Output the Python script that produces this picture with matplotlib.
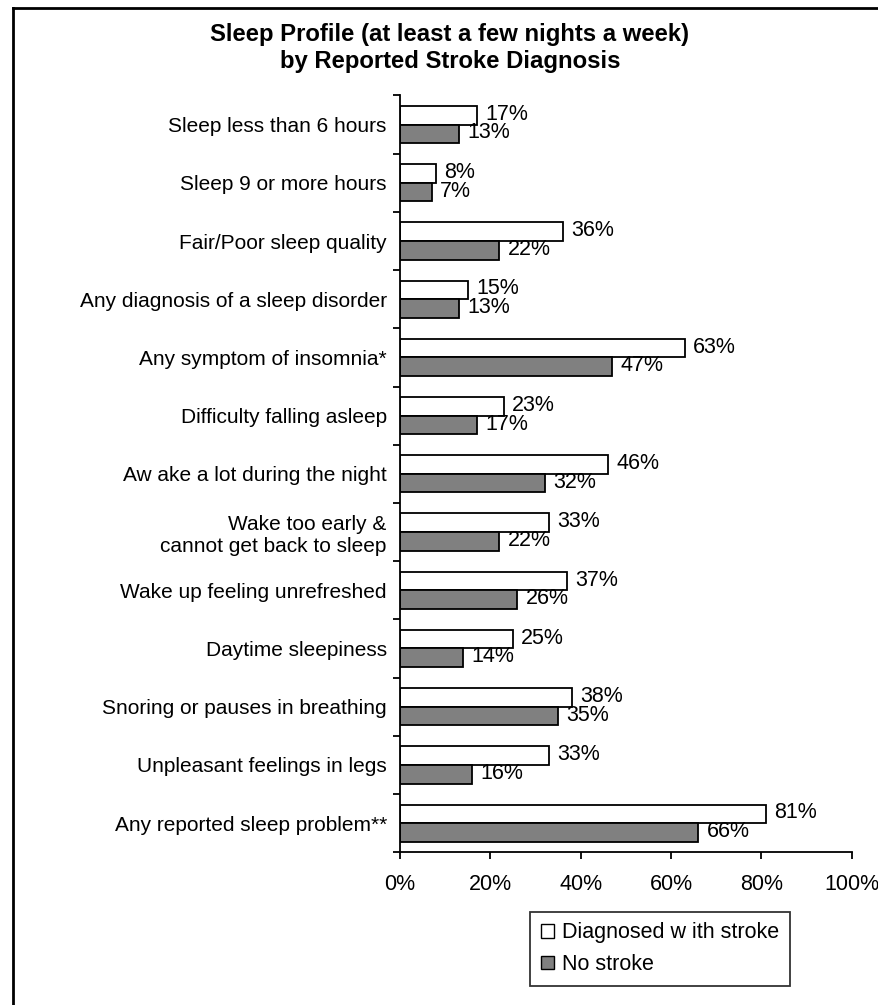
import matplotlib.pyplot as plt
from matplotlib.lines import Line2D
from matplotlib.patches import Patch
from matplotlib.ticker import FuncFormatter

plt.rcParams["font.family"] = ["Liberation Sans", "DejaVu Sans"]

categories = [
    "Sleep less than 6 hours",
    "Sleep 9 or more hours",
    "Fair/Poor sleep quality",
    "Any diagnosis of a sleep disorder",
    "Any symptom of insomnia*",
    "Difficulty falling asleep",
    "Aw ake a lot during the night",
    "Wake too early &\ncannot get back to sleep",
    "Wake up feeling unrefreshed",
    "Daytime sleepiness",
    "Snoring or pauses in breathing",
    "Unpleasant feelings in legs",
    "Any reported sleep problem**",
]
stroke = [17, 8, 36, 15, 63, 23, 46, 33, 37, 25, 38, 33, 81]
no_stroke = [13, 7, 22, 13, 47, 17, 32, 22, 26, 14, 35, 16, 66]
x_ticks = [0, 20, 40, 60, 80, 100]

fig = plt.figure(figsize=(8.79, 10.05), dpi=100)
ax = fig.add_axes([0.455, 0.152, 0.514, 0.753])

h = 0.32
fs = 15
ys = list(range(len(categories)))
ax.barh([y - h / 2 for y in ys], stroke, height=h, color="white",
        edgecolor="black", linewidth=1.3)
ax.barh([y + h / 2 for y in ys], no_stroke, height=h, color="#808080",
        edgecolor="black", linewidth=1.3)

for y, a, b in zip(ys, stroke, no_stroke):
    ax.annotate(f"{a}%", (a, y - h * 0.55), xytext=(6, 0), textcoords="offset points",
                va="center", ha="left", fontsize=fs + 0.5)
    ax.annotate(f"{b}%", (b, y + h * 0.45), xytext=(6, 0), textcoords="offset points",
                va="center", ha="left", fontsize=fs + 0.5)

ax.set_xlim(0, 100)
ax.set_ylim(len(categories) - 0.5, -0.5)
ax.set_xticks(x_ticks)
ax.xaxis.set_major_formatter(FuncFormatter(lambda v, p: f"{v:.0f}%"))
ax.set_yticks(ys)
ax.set_yticklabels(categories, fontsize=fs, multialignment="right")
ax.set_yticks([y + 0.5 for y in [-1] + ys], minor=True)
ax.tick_params(axis="y", which="major", length=0, pad=9.5)
ax.tick_params(axis="y", which="minor", length=5, width=1.3, direction="out")
ax.tick_params(axis="x", length=5, width=1.3, direction="out", labelsize=fs + 0.5, pad=11)
for side in ["top", "right"]:
    ax.spines[side].set_visible(False)
for side in ["left", "bottom"]:
    ax.spines[side].set_linewidth(1.3)

fig.text(0.512, 0.952, "Sleep Profile (at least a few nights a week)\nby Reported Stroke Diagnosis",
         ha="center", va="center", fontsize=17.2, fontweight="bold", linespacing=1.25)

handles = [Patch(facecolor="white", edgecolor="black"),
           Patch(facecolor="#808080", edgecolor="black")]
leg = fig.legend(handles, ["Diagnosed w ith stroke", "No stroke"],
                 loc="upper left", bbox_to_anchor=(0.603, 0.093), fontsize=15.5,
                 frameon=True, fancybox=False, edgecolor="black",
                 handlelength=0.6, handleheight=0.6, handletextpad=0.4,
                 labelspacing=0.5, borderpad=0.5, borderaxespad=0)
leg.get_frame().set_linewidth(1.3)

# only the top and left edges of the outer frame fall inside the picture
fig.add_artist(Line2D([13 / 879, 1.0], [1 - 8 / 1005] * 2, transform=fig.transFigure,
                      color="black", linewidth=2))
fig.add_artist(Line2D([13 / 879] * 2, [0.0, 1 - 8 / 1005], transform=fig.transFigure,
                      color="black", linewidth=2))

fig.savefig("out.png", dpi=100)
